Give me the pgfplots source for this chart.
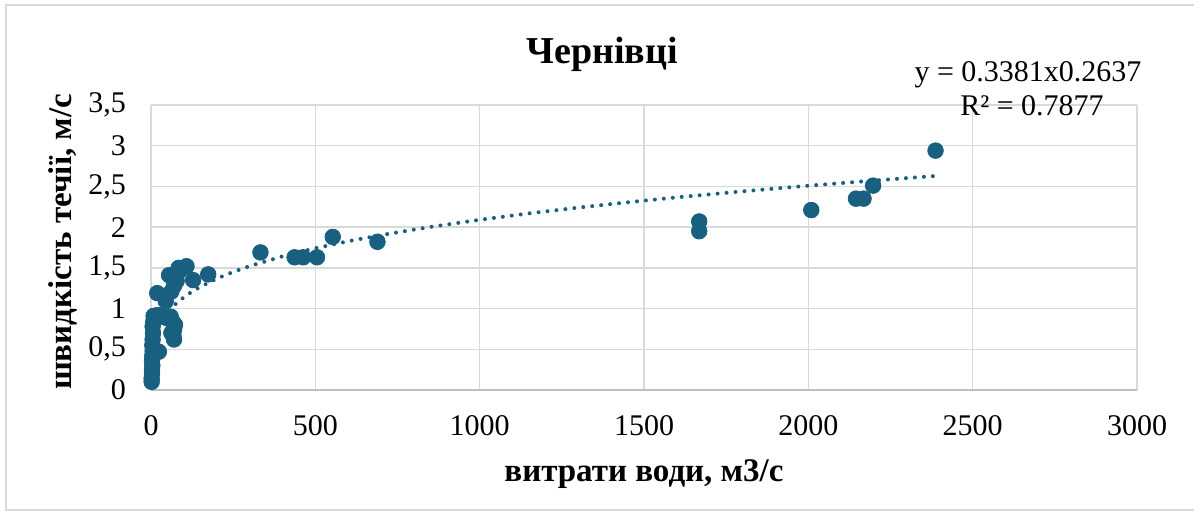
\documentclass[border=0pt]{standalone}
\usepackage{fontspec}
\setmainfont{Liberation Serif}
\usepackage{pgfplots}
\pgfplotsset{compat=1.18}
\definecolor{pt}{HTML}{185F80}
\definecolor{gridc}{HTML}{D9D9D9}
\definecolor{basec}{HTML}{BFBFBF}

% measured discharge (m3/s) and flow velocity (m/s)
\pgfplotstableread{
Q v
2 0.10
2 0.14
3 0.20
3 0.25
4 0.30
3 0.36
4 0.42
5 0.48
4 0.55
5 0.62
6 0.70
5 0.78
7 0.84
8 0.91
24 0.47
20 0.92
36 0.90
50 0.88
60 0.90
66 0.84
73 0.80
70 0.74
62 0.70
68 0.67
70 0.62
19 1.19
45 1.09
55 1.41
62 1.21
70 1.28
78 1.34
86 1.46
84 1.50
108 1.52
128 1.35
174 1.42
333 1.69
437 1.63
463 1.63
505 1.63
553 1.88
689 1.82
1668 2.07
1668 1.95
2009 2.21
2145 2.35
2168 2.35
2197 2.51
2387 2.94
}\flowdata

% power trend y = 0.3381 x^0.2637, tabulated
\pgfplotstableread{
Q v
75 1.0556
85 1.0910
100 1.1388
120 1.1950
150 1.2672
200 1.3673
250 1.4501
300 1.5215
400 1.6414
500 1.7409
600 1.8270
700 1.9025
850 2.0025
1000 2.0902
1150 2.1690
1300 2.2399
1450 2.3052
1600 2.3660
1800 2.4397
2000 2.5091
2200 2.5724
2390 2.6298
}\trenddata

\begin{document}
\begin{tikzpicture}[x=1pt,y=1pt]
\useasboundingbox (0,0) rectangle (597,-257.5);
\draw[gridc, line width=0.75pt] (3,-2.5) rectangle (600,-255);
\begin{axis}[
  at={(75.5pt,-195pt)}, anchor=south west,
  scale only axis, width=493pt, height=142.5pt,
  xmin=0, xmax=3000, ymin=0, ymax=3.5,
  xtick={0,500,...,3000}, ytick={0,0.5,...,3.5},
  grid=major, grid style={gridc, line width=0.75pt},
  axis line style={draw=none}, tick style={draw=none},
  tick label style={font=\fontsize{15}{17}\selectfont},
  /pgf/number format/assume math mode=true,
  /pgf/number format/1000 sep={},
  yticklabel style={/pgf/number format/use comma, xshift=-9pt},
  xticklabel style={yshift=-9pt},
  clip=false,
]
\draw[basec, line width=0.75pt] (axis cs:0,0) -- (axis cs:3000,0);
\addplot[only marks, mark=*, mark size=3.9pt, color=pt, fill=pt] table[x=Q,y=v] {\flowdata};
\addplot[pt, line width=2pt, line cap=round, dash pattern=on 0pt off 4.5pt] table[x=Q,y=v] {\trenddata};
\end{axis}
\node[anchor=base, font=\bfseries\fontsize{19}{21}\selectfont] at (301,-31.7) {Чернівці};
\node[anchor=base, font=\fontsize{15}{17}\selectfont] at (514,-40.5) {y = 0.3381x0.2637};
\node[anchor=base, font=\fontsize{15}{17}\selectfont] at (516,-57.5) {R² = 0.7877};
\node[anchor=base, font=\bfseries\fontsize{16.5}{18}\selectfont] at (322,-240.8) {витрати води, м3/с};
\node[anchor=base, rotate=90, font=\bfseries\fontsize{16.5}{18}\selectfont] at (35.8,-121) {швидкість течії, м/с};
\end{tikzpicture}
\end{document}
